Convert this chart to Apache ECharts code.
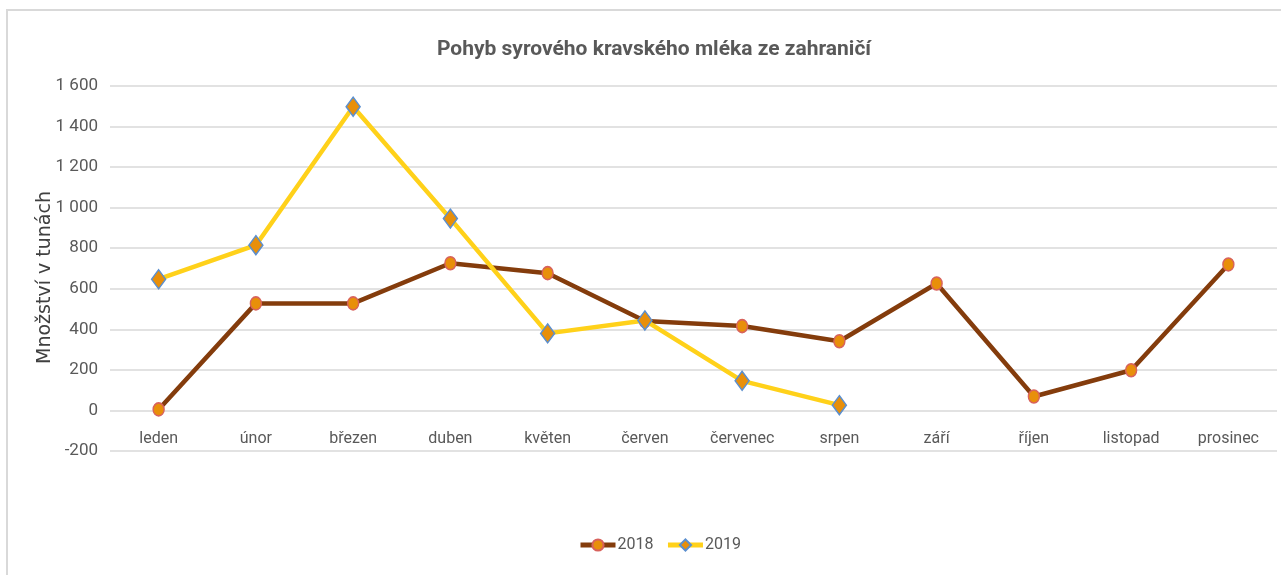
<!DOCTYPE html>
<html>
<head>
<meta charset="utf-8">
<script src="https://cdn.jsdelivr.net/npm/echarts@6/dist/echarts.min.js"></script>
<style>
    html, body {
        margin: 0;
        padding: 0;
        background: #fff;
    }
    .frame {
        position: absolute;
        left: 6px;
        top: 9px;
        width: 1300px;
        height: 600px;
        border-left: 2px solid #d9d9d9;
        border-top: 2px solid #d9d9d9;
    }
    .charts {
        position: absolute;
        left: 0;
        top: 0;
        width: 1281px;
        height: 575px;
    }
</style>
</head>
<body>
<div class="frame"></div>
<div id="chart" class="charts"></div>
<script>
// měsíce
const months = ["leden", "únor", "březen", "duben", "květen", "červen",
    "červenec", "srpen", "září", "říjen", "listopad", "prosinec"];
// množství v tunách
const values2018 = [5, 528, 528, 726, 677, 441, 416, 341, 626, 69, 198, 720];
const values2019 = [647, 815, 1498, 946, 380, 444, 146, 26];
const yMin = -200;
const yMax = 1600;
const yStep = 200;

const chart = echarts.init(document.getElementById("chart"));

const labelFont = "Roboto, sans-serif";

const option = {
    animation: false,
    title: {
        text: "Pohyb syrového kravského mléka ze zahraničí",
        left: 649,
        top: 34,
        textAlign: "center",
        textStyle: {
            color: "#595959",
            fontSize: 21,
            fontWeight: "bold",
            fontFamily: labelFont,
        },
    },
    legend: {
        top: 532,
        left: 573,
        itemWidth: 35,
        itemHeight: 14,
        itemGap: 12,
        lineStyle: {
            width: 5,
        },
        textStyle: {
            color: "#595959",
            fontSize: 16,
            fontFamily: labelFont,
            padding: [0, 0, 0, -3],
        },
        data: ["2018", "2019"],
    },
    grid: {
        left: 110,
        right: 4,
        top: 86,
        bottom: 124,
        containLabel: false,
    },
    xAxis: {
        type: "category",
        data: months,
        boundaryGap: true,
        axisLine: {
            show: false,
        },
        axisTick: {
            show: false,
        },
        axisLabel: {
            color: "#595959",
            fontSize: 16,
            fontFamily: labelFont,
            margin: -20,
        },
    },
    yAxis: {
        type: "value",
        min: yMin,
        max: yMax,
        interval: yStep,
        name: "Množství v tunách",
        nameLocation: "middle",
        nameGap: 55,
        nameMoveOverlap: false,
        nameTextStyle: {
            color: "#404040",
            fontSize: 19,
            fontFamily: "DejaVu Sans",
            padding: [0, 18, 0, 0],
        },
        axisLine: {
            show: false,
        },
        axisTick: {
            show: false,
        },
        axisLabel: {
            color: "#595959",
            fontSize: 17,
            fontFamily: labelFont,
            margin: 12,
            formatter: function (v) {
                return String(v).replace(/\B(?=(\d{3})+(?!\d))/g, " ");
            },
        },
        splitLine: {
            lineStyle: {
                color: "#d9d9d9",
                width: 1.5,
            },
        },
    },
    series: [
        {
            name: "2018",
            type: "line",
            data: values2018,
            symbol: "circle",
            symbolSize: [11, 13],
            lineStyle: {
                color: "#843c0c",
                width: 4.5,
            },
            itemStyle: {
                color: "#e88f0a",
                borderColor: "#d8625c",
                borderWidth: 1.5,
            },
            z: 2,
        },
        {
            name: "2019",
            type: "line",
            data: values2019,
            symbol: "diamond",
            symbolSize: [14, 19],
            lineStyle: {
                color: "#ffd11a",
                width: 4.5,
            },
            itemStyle: {
                color: "#e88f0a",
                borderColor: "#5b8fcf",
                borderWidth: 1.5,
            },
            z: 3,
        },
    ],
};

chart.setOption(option);
window.addEventListener("resize", function () {
    chart.resize();
});
</script>
</body>
</html>
